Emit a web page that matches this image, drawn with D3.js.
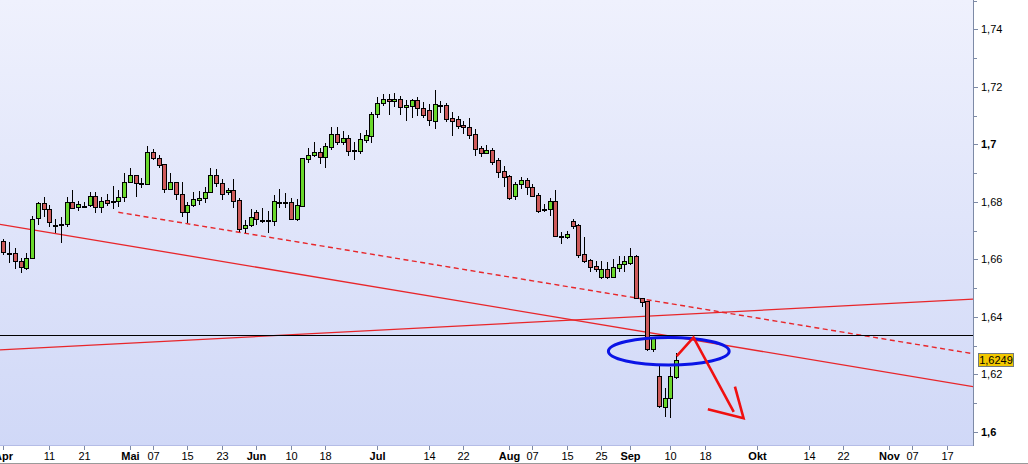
<!DOCTYPE html>
<html>
<head>
<meta charset="utf-8">
<script src="https://cdn.jsdelivr.net/npm/d3@7"></script>
<style>
html,body{margin:0;padding:0;background:#fff;}
svg{display:block;font-family:"Liberation Sans",Arial,sans-serif;}
</style>
</head>
<body>
<svg id="chart" width="1028" height="464"></svg>
<script>
// ---------------- data ----------------
const firstDay = "2008-04-01";
const lastDay = "2008-11-28";
// daily OHLC, one entry per trading day starting 2008-04-01
const open = [1.6664,1.6623,1.6621,1.6595,1.6569,1.6604,1.6743,1.6795,1.6774,1.6720,1.6722,1.6722,1.6799,1.6781,1.6787,1.6788,1.6821,1.6781,1.6806,1.6803,
1.6804,1.6818,1.6870,1.6893,1.6867,1.6863,1.6973,1.6952,1.6931,1.6846,1.6868,1.6827,1.6764,1.6789,1.6806,1.6813,1.6833,1.6893,1.6865,1.6833,
1.6840,1.6806,1.6708,1.6719,1.6764,1.6737,1.6736,1.6735,1.6800,1.6800,1.6799,1.6742,1.6786,1.6950,1.6964,1.6973,1.6957,1.6992,1.7036,1.7009,
1.7021,1.6979,1.6978,1.7015,1.7030,1.7105,1.7143,1.7157,1.7150,1.7157,1.7129,1.7135,1.7153,1.7126,1.7119,1.7082,1.7138,1.7137,1.7091,1.7088,
1.7067,1.7059,1.7036,1.6986,1.6971,1.6981,1.6946,1.6908,1.6890,1.6822,1.6861,1.6876,1.6851,1.6824,1.6775,1.6775,1.6803,1.6682,1.6679,1.6734,
1.6720,1.6618,1.6598,1.6577,1.6540,1.6566,1.6540,1.6571,1.6583,1.6589,1.6612,1.6465,1.6456,1.6288,1.6195,1.6088,1.6117,1.6192];
const high = [1.6671,1.6661,1.6640,1.6605,1.6622,1.6751,1.6801,1.6816,1.6789,1.6740,1.6747,1.6816,1.6841,1.6803,1.6801,1.6836,1.6836,1.6816,1.6827,1.6855,
1.6841,1.6900,1.6917,1.6895,1.6882,1.6994,1.6983,1.6963,1.6933,1.6900,1.6870,1.6870,1.6801,1.6836,1.6839,1.6853,1.6917,1.6913,1.6879,1.6849,
1.6879,1.6813,1.6737,1.6774,1.6772,1.6778,1.6768,1.6824,1.6845,1.6830,1.6813,1.6810,1.6954,1.6986,1.7008,1.6986,1.7004,1.7062,1.7062,1.7047,
1.7033,1.7009,1.7041,1.7050,1.7112,1.7164,1.7175,1.7175,1.7178,1.7168,1.7154,1.7158,1.7164,1.7148,1.7140,1.7189,1.7152,1.7144,1.7114,1.7099,
1.7080,1.7093,1.7054,1.6994,1.6998,1.6986,1.6952,1.6925,1.6892,1.6870,1.6888,1.6882,1.6862,1.6832,1.6793,1.6815,1.6841,1.6695,1.6699,1.6740,
1.6723,1.6679,1.6600,1.6595,1.6595,1.6592,1.6602,1.6612,1.6612,1.6641,1.6615,1.6466,1.6457,1.6331,1.6229,1.6152,1.6227,1.6274];
const low = [1.6615,1.6588,1.6567,1.6553,1.6563,1.6602,1.6720,1.6749,1.6714,1.6691,1.6656,1.6714,1.6774,1.6768,1.6778,1.6781,1.6760,1.6760,1.6787,1.6774,
1.6783,1.6801,1.6865,1.6818,1.6847,1.6859,1.6946,1.6917,1.6830,1.6841,1.6807,1.6749,1.6728,1.6781,1.6788,1.6797,1.6830,1.6853,1.6807,1.6824,
1.6778,1.6696,1.6691,1.6714,1.6720,1.6728,1.6693,1.6717,1.6778,1.6780,1.6737,1.6735,1.6782,1.6936,1.6955,1.6932,1.6919,1.6981,1.6998,1.6998,
1.6960,1.6946,1.6967,1.7004,1.7006,1.7093,1.7134,1.7102,1.7129,1.7102,1.7082,1.7091,1.7099,1.7091,1.7065,1.7055,1.7110,1.7079,1.7030,1.7052,
1.7036,1.7020,1.6960,1.6957,1.6967,1.6928,1.6884,1.6853,1.6807,1.6807,1.6844,1.6824,1.6818,1.6763,1.6766,1.6752,1.6677,1.6654,1.6671,1.6706,
1.6604,1.6587,1.6557,1.6557,1.6532,1.6532,1.6534,1.6557,1.6557,1.6581,1.6461,1.6436,1.6283,1.6279,1.6082,1.6053,1.6048,1.6183];
const close = [1.6625,1.6623,1.6595,1.6573,1.6604,1.6742,1.6795,1.6774,1.6729,1.6720,1.6722,1.6799,1.6780,1.6792,1.6787,1.6821,1.6781,1.6804,1.6795,1.6803,
1.6818,1.6870,1.6893,1.6867,1.6867,1.6973,1.6952,1.6929,1.6846,1.6868,1.6827,1.6764,1.6788,1.6809,1.6813,1.6833,1.6893,1.6865,1.6827,1.6840,
1.6804,1.6707,1.6719,1.6749,1.6740,1.6737,1.6736,1.6802,1.6800,1.6800,1.6742,1.6788,1.6952,1.6962,1.6973,1.6957,1.6993,1.7036,1.7009,1.7021,
1.6978,1.6979,1.7018,1.7033,1.7106,1.7143,1.7157,1.7150,1.7157,1.7129,1.7136,1.7153,1.7126,1.7103,1.7084,1.7140,1.7138,1.7089,1.7082,1.7065,
1.7059,1.7034,1.6985,1.6971,1.6981,1.6940,1.6905,1.6888,1.6815,1.6862,1.6876,1.6851,1.6822,1.6769,1.6775,1.6803,1.6682,1.6682,1.6688,1.6717,
1.6615,1.6596,1.6575,1.6566,1.6566,1.6540,1.6574,1.6583,1.6595,1.6612,1.6465,1.6453,1.6288,1.6326,1.6090,1.6117,1.6195,1.6249];

// x-axis tick dates and labels
const tickDates  = ["2008-04-01","2008-04-11","2008-04-21","2008-05-01","2008-05-07","2008-05-15","2008-05-23","2008-06-02","2008-06-10","2008-06-18","2008-07-01","2008-07-14","2008-07-22","2008-08-01","2008-08-07","2008-08-15","2008-08-25","2008-09-01","2008-09-10","2008-09-18","2008-10-01","2008-10-14","2008-10-22","2008-11-03","2008-11-07","2008-11-17"];
const tickLabels = ["Apr","11","21","Mai","07","15","23","Jun","10","18","Jul","14","22","Aug","07","15","25","Sep","10","18","Okt","14","22","Nov","07","17"];

// y-axis
const yMin = 1.59548, yMax = 1.75021;
const yTickStep = 0.01;
const yLabelStep = 0.02;

// drawn annotations (date, price)
const hLineLevel = 1.6336;
const trendDown = [["2008-04-01", 1.6720], ["2008-09-11", 1.6330]];
const trendUp = [["2008-04-01", 1.6286], ["2008-09-11", 1.6408]];
const trendDashed = [["2008-04-29", 1.6764], ["2008-09-11", 1.6443]];
const ellipseCenter = ["2008-09-09T17:00", 1.6281];
const ellipseHalfDays = 10.5, ellipseHalfPrice = 0.0048;
const arrowPath = [["2008-09-11T02:00", 1.6264], ["2008-09-16T00:00", 1.6329], ["2008-09-25T00:00", 1.6070]];
const arrowHead = [["2008-09-18T12:00", 1.6079], ["2008-09-26T17:00", 1.6048], ["2008-09-25T05:00", 1.6158]];
const lastPrice = 1.6249;

// ---------------- layout ----------------
const W = 1028, H = 464;
const plotRight = 973, plotBottom = 445;

const parse = d3.timeParse("%Y-%m-%d");
const fmtKey = d3.timeFormat("%Y-%m-%d");
const tradingDays = d3.timeDay.range(parse(firstDay), d3.timeDay.offset(parse(lastDay), 1))
  .filter(d => d.getDay() !== 0 && d.getDay() !== 6);
const dayIndex = new Map(tradingDays.map((d, i) => [fmtKey(d), i]));
function idx(s) {
  const dt = new Date(s.length > 10 ? s : s + "T00:00");
  const key = fmtKey(dt);
  const frac = (dt.getHours() + dt.getMinutes() / 60) / 24;
  return dayIndex.get(key) + frac;
}

const x = d3.scaleLinear().domain([-0.57, 168.6]).range([0, plotRight]);
const y = d3.scaleLinear().domain([yMin, yMax]).range([plotBottom, 0]);

const svg = d3.select("#chart");
const defs = svg.append("defs");
const grad = defs.append("linearGradient").attr("id", "bg").attr("x1", 0).attr("y1", 0).attr("x2", 0).attr("y2", 1);
grad.append("stop").attr("offset", "0%").attr("stop-color", "#eff1fd");
grad.append("stop").attr("offset", "100%").attr("stop-color", "#d0d8f7");
defs.append("clipPath").attr("id", "clip").append("rect").attr("x", 0).attr("y", 0).attr("width", plotRight).attr("height", plotBottom);

svg.append("rect").attr("x", 0).attr("y", 0).attr("width", W).attr("height", H).attr("fill", "#fff");
svg.append("rect").attr("x", 0).attr("y", 0).attr("width", plotRight).attr("height", plotBottom).attr("fill", "url(#bg)");

const plot = svg.append("g").attr("clip-path", "url(#clip)");

// trend lines
const d0 = x.domain()[0], d1 = x.domain()[1];
function extLine(pts, extendLeft) {
  const i1 = idx(pts[0][0]), v1 = pts[0][1], i2 = idx(pts[1][0]), v2 = pts[1][1];
  const s = (v2 - v1) / (i2 - i1);
  const a = extendLeft ? d0 : i1;
  return [[a, v1 + s * (a - i1)], [d1, v1 + s * (d1 - i1)]];
}
function drawLine(pts, dashed) {
  plot.append("line")
    .attr("x1", x(pts[0][0])).attr("y1", y(pts[0][1]))
    .attr("x2", x(pts[1][0])).attr("y2", y(pts[1][1]))
    .attr("stroke", "#e8262a").attr("stroke-width", dashed ? 1.4 : 1.3)
    .attr("stroke-dasharray", dashed ? "5,3.5" : null);
}
drawLine(extLine(trendDown, true), false);
drawLine(extLine(trendUp, true), false);
drawLine(extLine(trendDashed, false), true);

plot.append("line").attr("x1", 0).attr("x2", plotRight)
  .attr("y1", Math.round(y(hLineLevel)) + 0.5).attr("y2", Math.round(y(hLineLevel)) + 0.5)
  .attr("stroke", "#000").attr("stroke-width", 1);

// candles
const candles = plot.append("g");
open.forEach((o, k) => {
  const c = close[k], h = high[k], l = low[k];
  const cx = Math.round(x(k));
  candles.append("line").attr("x1", cx + 0.5).attr("x2", cx + 0.5)
    .attr("y1", Math.round(y(h))).attr("y2", Math.round(y(l)))
    .attr("stroke", "#000").attr("stroke-width", 1);
  const top = Math.round(y(Math.max(o, c))), bot = Math.round(y(Math.min(o, c)));
  const fill = c > o ? "#6ad82c" : (c < o ? "#cd5a5a" : "#000");
  candles.append("rect").attr("x", cx - 1.5).attr("y", top + 0.5)
    .attr("width", 4).attr("height", Math.max(1, bot - top))
    .attr("fill", fill).attr("stroke", "#000").attr("stroke-width", 1);
});

// ellipse annotation
const ec = idx(ellipseCenter[0]);
plot.append("ellipse")
  .attr("cx", x(ec)).attr("cy", y(ellipseCenter[1]))
  .attr("rx", x(ec + ellipseHalfDays) - x(ec))
  .attr("ry", y(ellipseCenter[1] - ellipseHalfPrice) - y(ellipseCenter[1]))
  .attr("fill", "none").attr("stroke", "#0a14e6").attr("stroke-width", 3);

// arrow annotation
const lineGen = d3.line().x(d => x(idx(d[0]))).y(d => y(d[1]));
plot.append("path").attr("d", lineGen(arrowPath)).attr("fill", "none")
  .attr("stroke", "#f01010").attr("stroke-width", 2.6).attr("stroke-linejoin", "miter");
plot.append("path").attr("d", lineGen(arrowHead)).attr("fill", "none")
  .attr("stroke", "#f01010").attr("stroke-width", 2.6).attr("stroke-linejoin", "miter");

// plot borders
svg.append("line").attr("x1", 0).attr("x2", plotRight).attr("y1", plotBottom + 0.5).attr("y2", plotBottom + 0.5)
  .attr("stroke", "#b4bce6");
svg.append("line").attr("x1", plotRight + 0.5).attr("x2", plotRight + 0.5).attr("y1", 0).attr("y2", plotBottom + 1)
  .attr("stroke", "#7d8aa6");

// y axis
const yTicks = d3.range(Math.ceil(yMin / yTickStep), Math.floor(yMax / yTickStep) + 1).map(n => n * yTickStep);
const yAx = svg.append("g");
yTicks.forEach(v => {
  const n = Math.round(v / yTickStep);
  const major = n % Math.round(yLabelStep / yTickStep) === 0;
  const yy = Math.round(y(v)) + 0.5;
  yAx.append("line").attr("x1", plotRight + 1).attr("x2", plotRight + (major ? 5 : 4))
    .attr("y1", yy).attr("y2", yy).attr("stroke", "#7d8aa6");
  if (major) {
    let s = d3.format(".2f")(v).replace(/0+$/, "").replace(/\.$/, "");
    const bold = n % 10 === 0;
    yAx.append("text").attr("x", plotRight + 8).attr("y", yy).attr("dy", "0.35em")
      .attr("font-size", 11).attr("font-weight", bold ? "bold" : "normal")
      .attr("fill", "#000").text(s.replace(".", ","));
  }
});

// x axis
const xAx = svg.append("g");
tickDates.forEach((d, j) => {
  const xx = Math.round(x(idx(d))) + 0.5;
  const lab = tickLabels[j];
  const isMonth = /^[A-Za-zä]+$/.test(lab);
  xAx.append("line").attr("x1", xx).attr("x2", xx).attr("y1", plotBottom + 1).attr("y2", plotBottom + 5)
    .attr("stroke", "#7d8aa6");
  xAx.append("text").attr("x", xx).attr("y", 456).attr("dy", "0.35em")
    .attr("text-anchor", "middle").attr("font-size", 11)
    .attr("font-weight", isMonth ? "bold" : "normal").attr("fill", "#000").text(lab);
});
svg.append("line").attr("x1", 0).attr("x2", W).attr("y1", 463.5).attr("y2", 463.5).attr("stroke", "#9a9a9a");

// last price label
const lp = y(lastPrice);
const lpText = d3.format(".4f")(lastPrice).replace(".", ",");
svg.append("rect").attr("x", 978.5).attr("y", Math.round(lp - 7) + 0.5).attr("width", 35).attr("height", 13)
  .attr("fill", "#f2c800").attr("stroke", "#6f7880").attr("stroke-width", 1);
svg.append("text").attr("x", 996).attr("y", Math.round(lp - 7) + 7.5).attr("dy", "0.35em")
  .attr("text-anchor", "middle").attr("font-size", 11).attr("fill", "#000").text(lpText);
</script>
</body>
</html>
